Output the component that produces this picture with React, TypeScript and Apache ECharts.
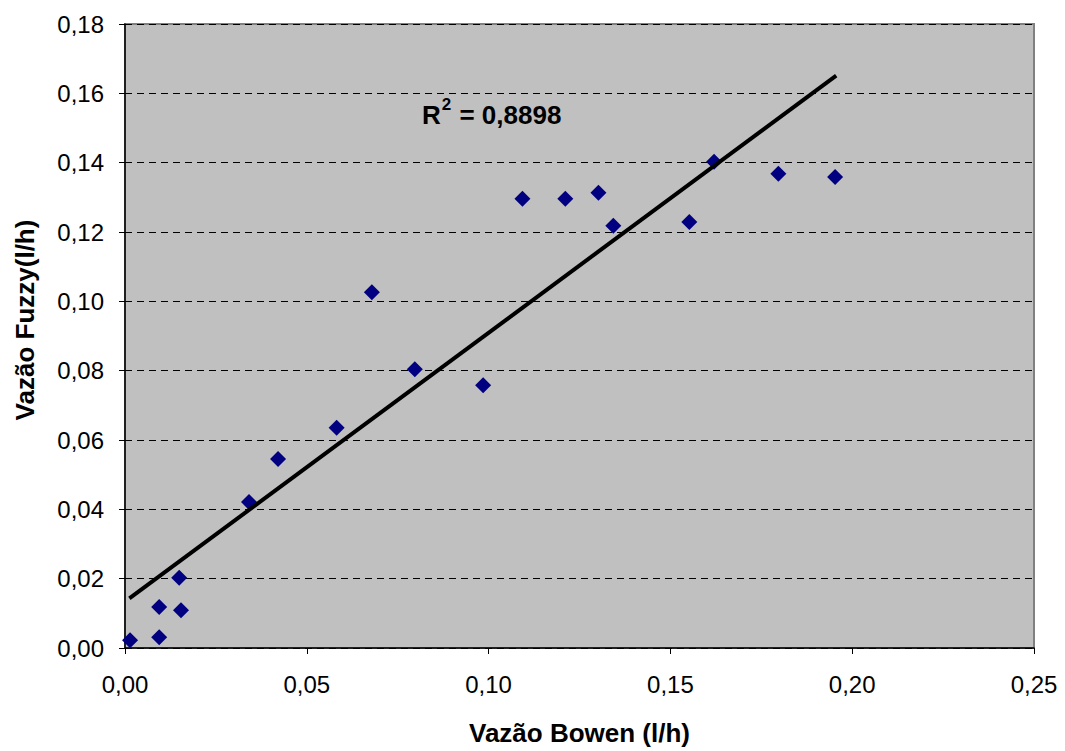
import React, { useEffect, useRef } from "react";
import * as echarts from "echarts";

const bowen = [0.0014, 0.0094, 0.0094, 0.0154, 0.0149, 0.0341, 0.0421, 0.0582, 0.0679, 0.0797, 0.0985, 0.1093, 0.1211, 0.1302, 0.1343, 0.1552, 0.162, 0.1797, 0.1953];
const fuzzy = [0.0022, 0.0031, 0.0118, 0.0109, 0.0203, 0.0421, 0.0545, 0.0635, 0.1026, 0.0804, 0.0758, 0.1296, 0.1296, 0.1313, 0.1218, 0.1229, 0.1403, 0.1368, 0.1359];
const trendX = [0.0012, 0.1956];
const trendY = [0.0143, 0.1651];
const r2Label = "0,8898";
const xTitle = "Vazão Bowen (l/h)";
const yTitle = "Vazão Fuzzy(l/h)";

const fmt = (v: number) => v.toFixed(2).replace(".", ",");
const FONT = "'Liberation Sans', Arial, sans-serif";

export default function App() {
  const ref = useRef<HTMLDivElement>(null);
  useEffect(() => {
    if (!ref.current) return;
    const chart = echarts.init(ref.current, undefined, { renderer: "svg" });
    chart.setOption({
      animation: false,
      backgroundColor: "#ffffff",
      grid: {
        left: 125,
        right: 31,
        top: 24,
        bottom: 103,
        show: true,
        backgroundColor: "#C0C0C0",
        borderColor: "#808080",
        borderWidth: 2,
      },
      xAxis: {
        type: "value",
        min: 0,
        max: 0.25,
        interval: 0.05,
        name: xTitle,
        nameLocation: "middle",
        nameGap: 72,
        nameTextStyle: { fontFamily: FONT, fontSize: 26, fontWeight: "bold", color: "#000" },
        axisLine: { show: true, onZero: false, lineStyle: { color: "#000", width: 1.5 } },
        axisTick: { show: true, inside: false, length: 6, lineStyle: { color: "#000" } },
        axisLabel: { margin: 24, fontFamily: FONT, fontSize: 24, color: "#000", formatter: fmt },
        splitLine: { show: false },
      },
      yAxis: {
        type: "value",
        min: 0,
        max: 0.18,
        interval: 0.02,
        axisLine: { show: true, onZero: false, lineStyle: { color: "#000", width: 1.5 } },
        axisTick: { show: true, inside: false, length: 6, lineStyle: { color: "#000" } },
        axisLabel: { margin: 21, fontFamily: FONT, fontSize: 24, color: "#000", formatter: fmt },
        splitLine: { show: true, lineStyle: { color: "#000", type: [7, 5], width: 1 } },
      },
      series: [
        {
          type: "scatter",
          data: bowen.map((x, i) => [x, fuzzy[i]]),
          symbol: "diamond",
          symbolSize: 16,
          itemStyle: { color: "#000080", opacity: 1 },
          z: 2,
        },
        {
          type: "line",
          data: trendX.map((x, i) => [x, trendY[i]]),
          symbol: "none",
          lineStyle: { color: "#000", width: 4 },
          z: 3,
        },
      ],
      graphic: [
        {
          type: "text",
          x: 25,
          y: 320,
          rotation: Math.PI / 2,
          style: {
            text: yTitle,
            fontFamily: FONT,
            fontSize: 26,
            fontWeight: "bold",
            fill: "#000",
            textAlign: "center",
            textVerticalAlign: "middle",
          },
        },
        {
          type: "text",
          x: 422,
          y: 112,
          z: 10,
          style: {
            text: "{a|R}{b|2}{a| = " + r2Label + "}",
            textVerticalAlign: "middle",
            rich: {
              a: { fontFamily: FONT, fontSize: 26, fontWeight: "bold", fill: "#000", lineHeight: 32, verticalAlign: "bottom" },
              b: { fontFamily: FONT, fontSize: 17, fontWeight: "bold", fill: "#000", lineHeight: 32, verticalAlign: "top", padding: [0, 1, 0, 1] },
            },
          },
        },
      ],
    });
    return () => chart.dispose();
  }, []);
  return (
    <div
      ref={ref}
      style={{ position: "fixed", left: 0, top: 0, width: 1065, height: 751 }}
    />
  );
}
